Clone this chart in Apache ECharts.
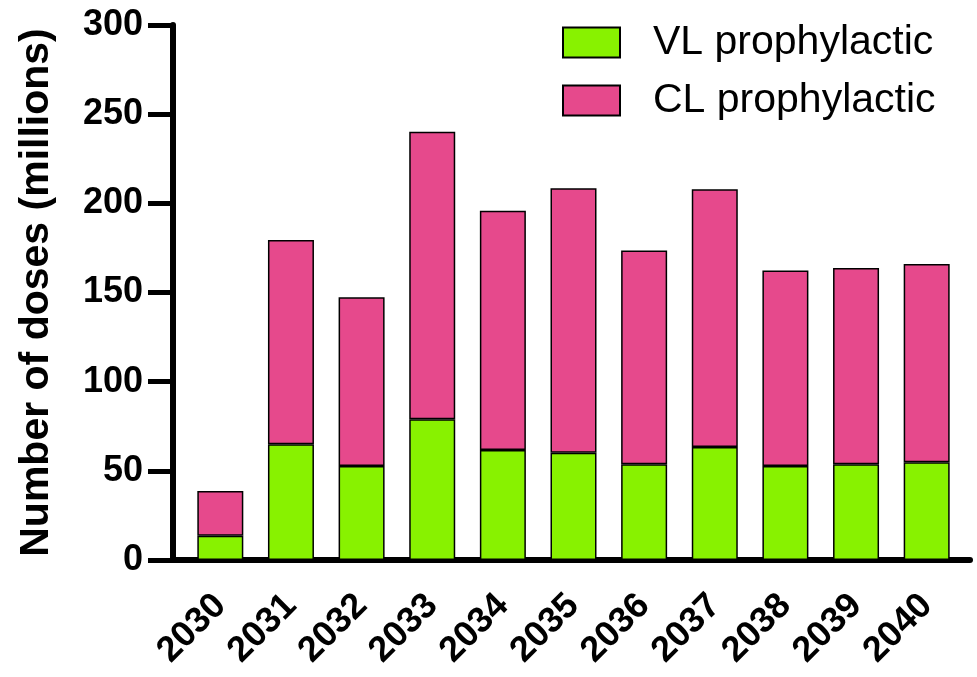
<!DOCTYPE html>
<html lang="en">
  <head>
    <meta charset="UTF-8" />
    <title>Number of doses</title>
    <script src="https://cdn.jsdelivr.net/npm/echarts@6.0.0/dist/echarts.min.js"></script>
    <style>
      html, body { margin: 0; padding: 0; background: #fff; }
    </style>
  </head>
  <body>
    <div id="main" style="width: 977px; height: 677px"></div>

    <script>
      // years on the x axis
      var years = ["2030", "2031", "2032", "2033", "2034", "2035", "2036", "2037", "2038", "2039", "2040"]
      // doses in millions
      var vlDoses = [13.6, 64.9, 52.7, 78.9, 61.7, 60.2, 53.7, 63.4, 52.7, 53.7, 54.8]
      var clDoses = [25.1, 114.6, 94.6, 161.3, 134.1, 148.3, 119.8, 144.5, 109.6, 110.1, 111.2]

      var font = "Arial, 'Liberation Sans', sans-serif"
      var mCharts = echarts.init(document.getElementById("main"))

      var option = {
        animation: false,
        backgroundColor: "#fff",
        // grid 0 holds the bars, grid 1 only draws the longer axis lines
        grid: [
          { left: 185, width: 777, top: 25, height: 535 },
          { left: 173, right: 7, top: 25, height: 535 },
        ],
        legend: {
          orient: "vertical",
          left: 557,
          top: 17,
          icon: "rect",
          itemWidth: 57,
          itemHeight: 30,
          itemGap: 17,
          textStyle: {
            fontFamily: font,
            fontSize: 41,
            color: "#000",
            padding: [0, 0, 0, 28],
          },
          data: ["VL prophylactic", "CL prophylactic"],
        },
        xAxis: [
          {
            gridIndex: 0,
            type: "category",
            data: years,
            axisLine: { show: false },
            axisTick: {
              alignWithLabel: true,
              length: 20,
              lineStyle: { color: "#000", width: 5 },
            },
            axisLabel: {
              rotate: 45,
              margin: 40,
              fontFamily: font,
              fontSize: 36,
              fontWeight: "bold",
              color: "#000",
            },
          },
          {
            gridIndex: 1,
            type: "value",
            min: 0,
            max: 1,
            axisLine: { show: true, lineStyle: { color: "#000", width: 6 } },
            axisTick: { show: false },
            axisLabel: { show: false },
            splitLine: { show: false },
          },
        ],
        yAxis: [
          {
            gridIndex: 0,
            type: "value",
            min: 0,
            max: 300,
            show: false,
          },
          {
            gridIndex: 1,
            type: "value",
            min: 0,
            max: 300,
            interval: 50,
            name: "Number of doses (millions)",
            nameLocation: "middle",
            nameGap: 116,
            nameTextStyle: {
              fontFamily: font,
              fontSize: 41,
              fontWeight: "bold",
              color: "#000",
            },
            axisLine: { show: true, lineStyle: { color: "#000", width: 6 } },
            axisTick: { show: true, length: 25, lineStyle: { color: "#000", width: 5 } },
            axisLabel: {
              margin: 30,
              fontFamily: font,
              fontSize: 36,
              fontWeight: "bold",
              color: "#000",
            },
            splitLine: { show: false },
          },
        ],
        series: [
          {
            name: "VL prophylactic",
            type: "bar",
            stack: "doses",
            xAxisIndex: 0,
            yAxisIndex: 0,
            barWidth: 46,
            data: vlDoses,
            itemStyle: { color: "#88f200", borderColor: "#000", borderWidth: 1.5 },
          },
          {
            name: "CL prophylactic",
            type: "bar",
            stack: "doses",
            xAxisIndex: 0,
            yAxisIndex: 0,
            barWidth: 46,
            data: clDoses,
            itemStyle: { color: "#e6498c", borderColor: "#000", borderWidth: 1.5 },
          },
        ],
      }

      mCharts.setOption(option)
    </script>
  </body>
</html>
